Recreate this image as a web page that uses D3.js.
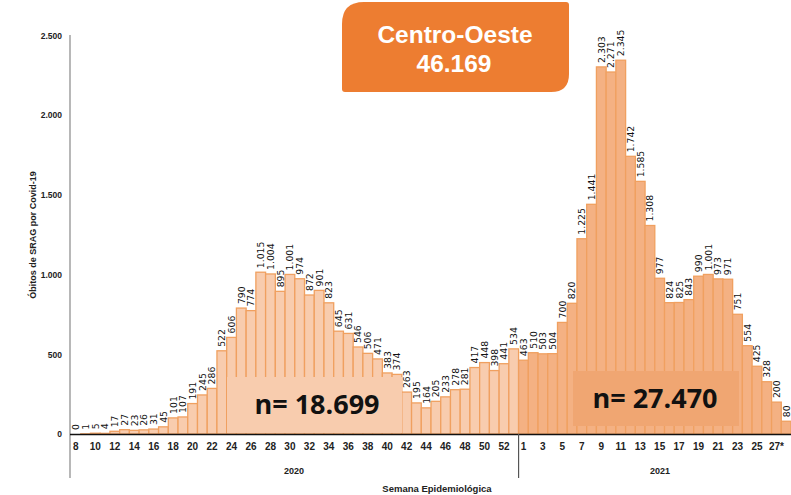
<!DOCTYPE html>
<html><head><meta charset="utf-8">
<script src="https://cdn.jsdelivr.net/npm/d3@7"></script>
<style>body{margin:0;background:#fff;overflow:hidden}svg{display:block}</style>
</head><body><svg id="c" width="791" height="495"></svg>
<script>
const weeks2020 = [8,9,10,11,12,13,14,15,16,17,18,19,20,21,22,23,24,25,26,27,28,29,30,31,32,33,34,35,36,37,38,39,40,41,42,43,44,45,46,47,48,49,50,51,52,53];
const values2020 = [0,1,5,4,17,27,23,26,31,45,101,107,191,245,286,522,606,790,774,1015,1004,895,1001,974,872,901,823,645,631,546,506,471,383,374,263,195,164,205,233,278,281,417,448,398,441,534];
const weeks2021 = [1,2,3,4,5,6,7,8,9,10,11,12,13,14,15,16,17,18,19,20,21,22,23,24,25,26,27,28];
const values2021 = [463,510,503,504,700,820,1225,1441,2303,2271,2345,1742,1585,1308,977,824,825,843,990,1001,973,971,751,554,425,328,200,80];
const yTicks = [0,500,1000,1500,2000,2500];
const title = "Centro-Oeste";
const total = "46.169";
const n2020 = "n= 18.699";
const n2021 = "n= 27.470";
const yTitle = "Óbitos de SRAG por Covid-19";
const xTitle = "Semana Epidemiológica";

const data = weeks2020.map((w,i)=>({key:"2020-"+w, year:2020, week:w, v:values2020[i]}))
  .concat(weeks2021.map((w,i)=>({key:"2021-"+w, year:2021, week:w, v:values2021[i]})));

const svg = d3.select("#c");
const x0 = 71, bw = 9.73;
const x = d3.scaleBand().domain(data.map(d=>d.key)).range([x0, x0 + bw*data.length]).padding(0);
const y = d3.scaleLinear().domain([0,2500]).range([434, 35.5]);
const fmt = v => d3.format(",")(v).replace(/,/g,".");
const narrow = "Liberation Sans Narrow, Liberation Sans, sans-serif";

// bars
svg.append("g").selectAll("rect").data(data).join("rect")
  .attr("x", d=>x(d.key)).attr("width", x.bandwidth())
  .attr("y", d=>y(d.v)).attr("height", d=>y(0)-y(d.v))
  .attr("fill", d=>d.year===2020 ? "#F8CCAE" : "#F4B183")
  .attr("stroke", "#F0A060").attr("stroke-width", 1.3);

// value labels
svg.append("g").selectAll("text").data(data).join("text")
  .attr("transform", d=>`translate(${x(d.key)+x.bandwidth()/2+3.4},${y(d.v)-4}) rotate(-90)`)
  .attr("font-family","DejaVu Sans, Verdana, sans-serif").attr("font-size", 9.3)
  .attr("fill","#111").text(d=>fmt(d.v));

// n boxes
svg.append("rect").attr("x",227).attr("y",377).attr("width",175).attr("height",y(0)-377-1).attr("fill","#F8CCAE");
svg.append("text").attr("x",317).attr("y",414).attr("text-anchor","middle")
  .attr("font-family","Open Sans, Liberation Sans, sans-serif").attr("font-weight","bold").attr("font-size",27)
  .attr("fill","#111").text(n2020);
svg.append("rect").attr("x",573).attr("y",371).attr("width",166).attr("height",55).attr("fill","#F0A672");
svg.append("text").attr("x",655).attr("y",408).attr("text-anchor","middle")
  .attr("font-family","Open Sans, Liberation Sans, sans-serif").attr("font-weight","bold").attr("font-size",27)
  .attr("fill","#111").text(n2021);

// axes
const yAxis = d3.axisLeft(y).tickValues(yTicks).tickSize(0).tickPadding(8).tickFormat(fmt);
const gy = svg.append("g").attr("transform",`translate(70,0)`).call(yAxis);
gy.select(".domain").remove();
gy.selectAll("text").attr("font-family",narrow).attr("font-size",8.5).attr("font-weight","bold").attr("fill","#222");
svg.append("line").attr("x1",70).attr("x2",70).attr("y1",35).attr("y2",478).attr("stroke","#888").attr("stroke-width",1.2);

const tickKeys = data.filter(d => (d.year===2020 && d.week%2===0 && d.week<=52) || (d.year===2021 && d.week%2===1)).map(d=>d.key);
const xAxis = d3.axisBottom(x).tickValues(tickKeys).tickSize(0).tickPadding(9)
  .tickFormat(k => { const d = data.find(e=>e.key===k); return d.year===2021 && d.week===27 ? "27*" : d.week; });
const gx = svg.append("g").attr("transform",`translate(0,434)`).call(xAxis);
gx.select(".domain").remove();
gx.selectAll("text").attr("font-family",narrow).attr("font-size",10).attr("font-weight","bold").attr("fill","#222");
svg.append("line").attr("x1",70).attr("x2",791).attr("y1",434.5).attr("y2",434.5).attr("stroke","#111").attr("stroke-width",1.3);
const sepX = x("2021-1");
svg.append("line").attr("x1",sepX).attr("x2",sepX).attr("y1",434).attr("y2",478).attr("stroke","#555").attr("stroke-width",1.2);

svg.append("text").attr("x",294).attr("y",474).attr("text-anchor","middle")
  .attr("font-family",narrow).attr("font-size",9).attr("font-weight","bold").attr("fill","#222").text("2020");
svg.append("text").attr("x",660).attr("y",474).attr("text-anchor","middle")
  .attr("font-family",narrow).attr("font-size",9).attr("font-weight","bold").attr("fill","#222").text("2021");
svg.append("text").attr("x",437).attr("y",492).attr("text-anchor","middle")
  .attr("font-family",narrow).attr("font-size",9.5).attr("font-weight","bold").attr("fill","#222").text(xTitle);
svg.append("text").attr("transform","translate(36,235) rotate(-90)").attr("text-anchor","middle")
  .attr("font-family",narrow).attr("font-size",9).attr("font-weight","bold").attr("fill","#222").text(yTitle);

// title box
const bx0=342, by0=2, bx1=569, by1=92, r1=22, r2=18, r3=3;
const p = d3.path();
p.moveTo(bx0+r1,by0); p.lineTo(bx1-r3,by0); p.quadraticCurveTo(bx1,by0,bx1,by0+r3);
p.lineTo(bx1,by1-r2); p.quadraticCurveTo(bx1,by1,bx1-r2,by1);
p.lineTo(bx0+r3,by1); p.quadraticCurveTo(bx0,by1,bx0,by1-r3);
p.lineTo(bx0,by0+r1); p.quadraticCurveTo(bx0,by0,bx0+r1,by0); p.closePath();
svg.append("path").attr("d",p.toString()).attr("fill","#ED7D31");
svg.append("text").attr("x",455).attr("y",43).attr("text-anchor","middle")
  .attr("font-family","Liberation Sans, Arial, sans-serif").attr("font-weight","bold").attr("font-size",24.5).attr("fill","#fff").text(title);
svg.append("text").attr("x",454).attr("y",72).attr("text-anchor","middle")
  .attr("font-family","Liberation Sans, Arial, sans-serif").attr("font-weight","bold").attr("font-size",24.5).attr("fill","#fff").text(total);
</script></body></html>
